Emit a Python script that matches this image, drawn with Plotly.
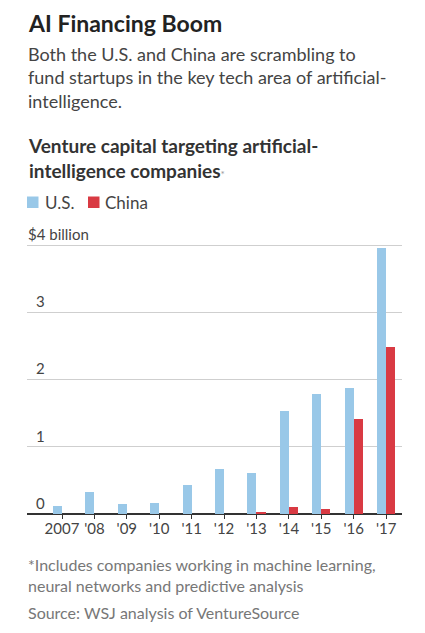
import plotly.graph_objects as go

years = [2007, 2008, 2009, 2010, 2011, 2012, 2013, 2014, 2015, 2016, 2017]
tick_labels = ["2007", "'08", "'09", "'10", "'11", "'12", "'13", "'14", "'15", "'16", "'17"]
us_values = [0.12, 0.33, 0.15, 0.17, 0.43, 0.67, 0.61, 1.53, 1.79, 1.87, 3.96]
china_values = [0, 0, 0, 0, 0, 0, 0.02, 0.10, 0.08, 1.41, 2.48]
y_ticks = [0, 1, 2, 3, 4]
y_tick_labels = ["0", "1", "2", "3", ""]
y_top_label = "$4 billion"
series_names = ["U.S.", "China"]

US_COLOR = "#99c8e8"
CN_COLOR = "#d93a43"
FONT = "Lato, 'Noto Sans', sans-serif"

W, H = 425, 633
YMAX = 4.06
L, R, B = 27, 23, 119
PX_PER_UNIT = 67.3
T = int(round(H - B - YMAX * PX_PER_UNIT))
plot_h = H - T - B
plot_w = W - L - R

def py(px):
    return (H - B - px) / plot_h

def pxx(px):
    return (px - L) / plot_w

bw = 0.28
fig = go.Figure()
fig.add_trace(go.Bar(x=years, y=us_values, name=series_names[0], marker=dict(color=US_COLOR, line=dict(width=0)),
                     width=bw, offset=-bw, showlegend=False))
fig.add_trace(go.Bar(x=years, y=china_values, name=series_names[1], marker=dict(color=CN_COLOR, line=dict(width=0)),
                     width=bw, offset=0, showlegend=False))

annotations = [
    dict(text="<b>AI Financing Boom</b>", x=pxx(26), y=py(7), xanchor="left", yanchor="top",
         font=dict(size=23, color="#222", family=FONT)),
    dict(text="Both the U.S. and China are scrambling to<br>fund startups in the key tech area of artificial-<br>intelligence.",
         x=pxx(26), y=py(41), xanchor="left", yanchor="top", align="left",
         font=dict(size=18, color="#444", family=FONT)),
    dict(text="<b>Venture capital targeting artificial-<br>intelligence companies</b><span style='font-size:10px;color:#999'>*</span>",
         x=pxx(26), y=py(132), xanchor="left", yanchor="top", align="left",
         font=dict(size=19, color="#333", family=FONT)),
    dict(text=series_names[0], x=pxx(43), y=py(202.5), xanchor="left", yanchor="middle",
         font=dict(size=17, color="#444", family=FONT)),
    dict(text=series_names[1], x=pxx(103), y=py(202.5), xanchor="left", yanchor="middle",
         font=dict(size=17, color="#444", family=FONT)),
    dict(text=y_top_label, x=pxx(26), y=4, yref="y", xanchor="left", yanchor="bottom",
         font=dict(size=15, color="#444", family=FONT)),
    dict(text="*Includes companies working in machine learning,<br>neural networks and predictive analysis",
         x=pxx(26), y=py(553), xanchor="left", yanchor="top", align="left",
         font=dict(size=16, color="#777", family=FONT)),
    dict(text="Source: WSJ analysis of VentureSource",
         x=pxx(26), y=py(601), xanchor="left", yanchor="top", align="left",
         font=dict(size=16, color="#777", family=FONT)),
]
for a in annotations:
    a.setdefault("yref", "paper")
    a.update(xref="paper", showarrow=False)

shapes = [
    dict(type="rect", xref="paper", yref="paper", x0=pxx(27), x1=pxx(38.5), y0=py(208), y1=py(196.5),
         fillcolor=US_COLOR, line=dict(width=0)),
    dict(type="rect", xref="paper", yref="paper", x0=pxx(88), x1=pxx(99.5), y0=py(208), y1=py(196.5),
         fillcolor=CN_COLOR, line=dict(width=0)),
]

fig.update_layout(
    width=W, height=H,
    margin=dict(l=L, r=R, t=T, b=B, pad=0, autoexpand=False),
    paper_bgcolor="white", plot_bgcolor="white",
    barmode="overlay", bargap=0,
    font=dict(family=FONT, color="#444"),
    showlegend=False,
    annotations=annotations,
    shapes=shapes,
    xaxis=dict(range=[2005.92, 2017.49], tickmode="array", tickvals=years, ticktext=tick_labels,
               ticks="outside", ticklen=4, tickcolor="#333", tickwidth=1, ticklabelstandoff=-3,
               showgrid=False, zeroline=False, showline=False, automargin=False,
               tickfont=dict(size=15, color="#444", family=FONT), fixedrange=True),
    yaxis=dict(range=[0, YMAX], tickmode="array", tickvals=y_ticks, ticktext=y_tick_labels,
               ticklabelposition="inside top", ticklabelstandoff=6, showgrid=True, gridcolor="#cfcfcf", gridwidth=1,
               zeroline=True, zerolinecolor="#333", zerolinewidth=1.5, showline=False, automargin=False,
               tickfont=dict(size=15, color="#444", family=FONT), ticks="", fixedrange=True),
)

fig.write_html("out.html", config={"displayModeBar": False},
               post_script="document.body.style.margin='0';")
